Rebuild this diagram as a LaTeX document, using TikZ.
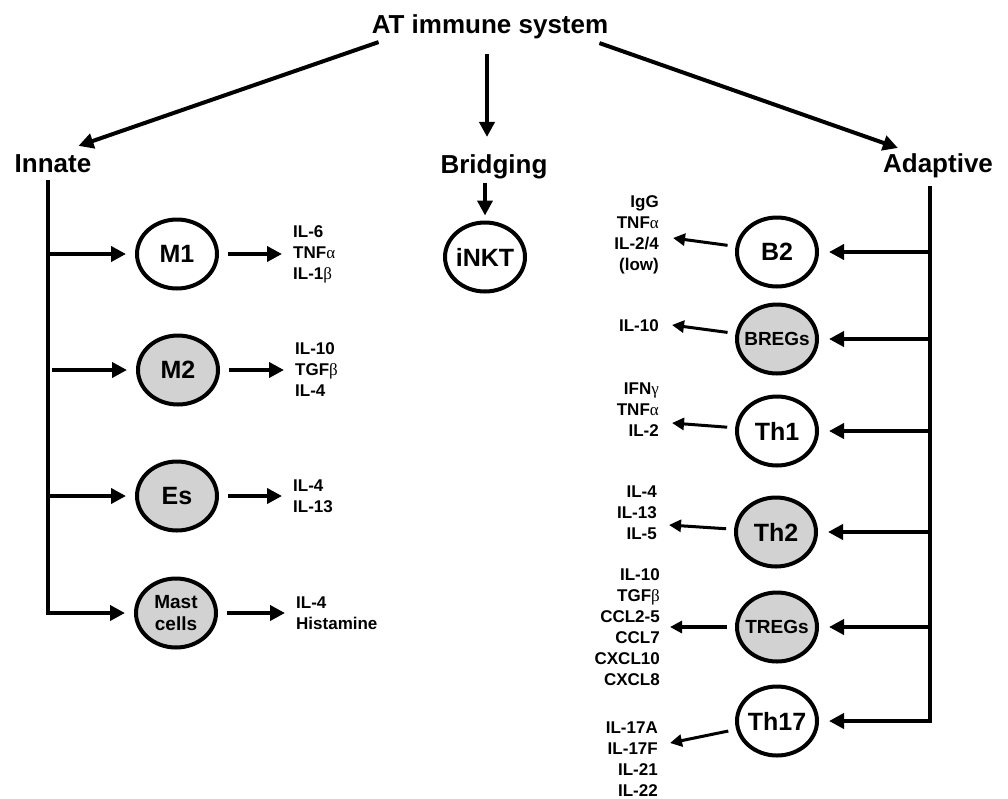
\documentclass[tikz,border=0pt]{standalone}
\usepackage{fontspec}
\setmainfont{Liberation Sans}
\newfontfamily\greekfont{Liberation Serif}
\usetikzlibrary{shapes.geometric, arrows.meta, positioning, calc}

\definecolor{cellgrey}{RGB}{210,210,210}
\newcommand{\gk}[1]{{\mdseries\greekfont #1}}

\tikzset{
  head/.style={font=\bfseries\fontsize{26}{26}\selectfont, inner sep=2pt, anchor=base},
  cell/.style={draw, ellipse, line width=4pt, minimum width=80pt, minimum height=69pt, inner sep=-6pt, font=\bfseries\fontsize{25}{25}\selectfont},
  grey cell/.style={cell, fill=cellgrey},
  small cell/.style={font=\bfseries\fontsize{19}{22}\selectfont, align=center},
  cyto/.style={font=\bfseries\fontsize{17}{21}\selectfont, inner sep=2pt},
  link/.style={line width=4pt, -{Triangle[length=15pt, width=15pt]}},
  thin link/.style={line width=3pt, -{Triangle[length=12pt, width=12pt]}, shorten <=8pt}
}

\begin{document}
\begin{tikzpicture}[x=1pt, y=-1pt]
\useasboundingbox (0,0) rectangle (1008,798);

\node[head] (title) at (490,33) {AT immune system};
\node[head] (innate) at (53,172) {Innate};
\node[head] (bridging) at (494,173) {Bridging};
\node[head] (adaptive) at (938,172) {Adaptive};

\draw[link] ([shift={(9,1.5)}]title.south west) -- ([shift={(-15,-6)}]innate.north east);
\draw[link, shorten <=13pt, shorten >=15pt] (title.south -| 487,0) -- (bridging.north -| 487,0);
\draw[link] ([shift={(-11,2.5)}]title.south east) -- ([shift={(17,-3)}]adaptive.north west);

\coordinate (innTop) at (48,180);
\coordinate (adTop) at (930,186);

\node[cell] (m1) at (177,254) {M1};
\node[grey cell] (m2) at (178,370) {M2};
\node[grey cell] (es) at (177,496) {Es};
\node[grey cell, small cell] (mast) at (176,613) {Mast\\cells};

\draw[link, shorten >=9pt] (innTop) |- (mast);
\draw[link, shorten >=9pt] (innTop |- m1) -- (m1);
\draw[link, shorten >=9pt] ([shift={(4,0)}]innTop |- m2) -- (m2);
\draw[link, shorten >=9pt] (innTop |- es) -- (es);

\node[cyto, anchor=west, align=left] (m1out) at (291,254) {IL-6\\TNF\gk{α}\\IL-1\gk{β}};
\node[cyto, anchor=west, align=left] (m2out) at (293,370) {IL-10\\TGF\gk{β}\\IL-4};
\node[cyto, anchor=west, align=left] (esout) at (291,496) {IL-4\\IL-13};
\node[cyto, anchor=west, align=left] (mastout) at (294,613) {IL-4\\Histamine};

\draw[link, shorten <=9pt, shorten >=9pt] (m1) -- (m1out);
\draw[link, shorten <=9pt, shorten >=9pt] (m2) -- (m2out);
\draw[link, shorten <=9pt, shorten >=9pt] (es) -- (esout);
\draw[link, shorten <=9pt, shorten >=9pt] (mast) -- (mastout);

\node[cell] (inkt) at (485,257) {iNKT};
\draw[link, shorten <=2pt, shorten >=5pt] (bridging.south -| inkt) -- (inkt);

\node[cell] (b2) at (777,252) {B2};
\node[grey cell, small cell] (bregs) at (777,339) {BREGs};
\node[cell] (th1) at (777,431) {Th1};
\node[grey cell] (th2) at (776,532) {Th2};
\node[grey cell, small cell] (tregs) at (777,627) {TREGs};
\node[cell] (th17) at (777,721) {Th17};

\draw[link, shorten >=10pt] (adTop) |- (th17);
\draw[link, shorten >=10pt] (adTop |- b2) -- (b2);
\draw[link, shorten >=10pt] (adTop |- bregs) -- (bregs);
\draw[link, shorten >=10pt] (adTop |- th1) -- (th1);
\draw[link, shorten >=10pt] (adTop |- th2) -- (th2);
\draw[link, shorten >=10pt] (adTop |- tregs) -- (tregs);

\node[cyto, anchor=east, align=right] (b2out) at (661,235) {IgG\\TNF\gk{α}\\IL-2/4\\(low)};
\node[cyto, anchor=east, align=right] (bregsout) at (661,326) {IL-10};
\node[cyto, anchor=east, align=right] (th1out) at (661,410) {IFN\gk{γ}\\TNF\gk{α}\\IL-2};
\node[cyto, anchor=east, align=right] (th2out) at (659,513) {IL-4\\IL-13\\IL-5};
\node[cyto, anchor=east, align=right] (tregsout) at (662,627) {IL-10\\TGF\gk{β}\\CCL2-5\\CCL7\\CXCL10\\CXCL8};
\node[cyto, anchor=east, align=right] (th17out) at (660,759) {IL-17A\\IL-17F\\IL-21\\IL-22};

\coordinate (b2tip) at (673,238);
\coordinate (bregstip) at (672,325);
\coordinate (th1tip) at (672,423);
\coordinate (th2tip) at (669,525);
\coordinate (tregstip) at (670,627);
\coordinate (th17tip) at (670,743);

\draw[thin link] (b2) -- (b2tip);
\draw[thin link] (bregs) -- (bregstip);
\draw[thin link] (th1) -- (th1tip);
\draw[thin link] (th2) -- (th2tip);
\draw[thin link, line width=4pt] (tregs) -- (tregstip);
\draw[thin link] (th17) -- (th17tip);
\end{tikzpicture}
\end{document}
